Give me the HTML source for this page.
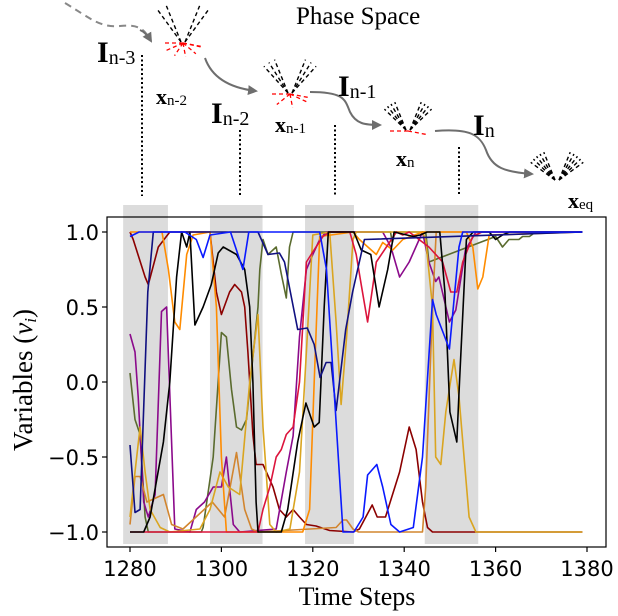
<!DOCTYPE html>
<html><head><meta charset="utf-8"><style>
html,body{margin:0;padding:0;background:#fff;}
svg{display:block;}
.tk{font-family:"DejaVu Sans","Liberation Sans",sans-serif;font-size:21px;fill:#000;}
.sf{font-family:"Liberation Serif",serif;fill:#000;}
</style></head><body>
<svg id="fig" width="618" height="616" viewBox="0 0 618 616" xmlns="http://www.w3.org/2000/svg">
<defs>
<marker id="ah" viewBox="0 0 10 10" refX="8" refY="5" markerWidth="5" markerHeight="5" orient="auto"><path d="M0,0 L10,5 L0,10 z" fill="#6e6e6e"/></marker>
</defs>
<g>
<text class="sf" x="296" y="24" font-size="25">Phase Space</text>
<path d="M65,3 C90,18 100,28 120,26 C140,24 145,30 150,40" fill="none" stroke="#888" stroke-width="2" stroke-dasharray="7,5"/>
<path d="M140,30 C145,32 148,36 151,41" fill="none" stroke="#6e6e6e" stroke-width="2" marker-end="url(#ah)"/>
<path d="M205,58 C212,78 230,88 256,91" fill="none" stroke="#6e6e6e" stroke-width="2" marker-end="url(#ah)"/>
<path d="M310,92 C345,92 345,100 350,112 C356,124 365,125 380,125" fill="none" stroke="#6e6e6e" stroke-width="2" marker-end="url(#ah)"/>
<path d="M435,131 C470,128 480,135 486,150 C492,168 505,172 532,174" fill="none" stroke="#6e6e6e" stroke-width="2" marker-end="url(#ah)"/>
<g id="clusters"></g>
<text class="sf" x="97" y="62" font-size="30" font-weight="bold">I<tspan font-size="20" font-weight="normal" dy="2">n-3</tspan></text>
<text class="sf" x="156" y="104" font-size="22" font-weight="bold">x<tspan font-size="15" font-weight="normal" dy="1">n-2</tspan></text>
<text class="sf" x="211" y="123" font-size="30" font-weight="bold">I<tspan font-size="20" font-weight="normal" dy="2">n-2</tspan></text>
<text class="sf" x="275" y="132" font-size="22" font-weight="bold">x<tspan font-size="15" font-weight="normal" dy="1">n-1</tspan></text>
<text class="sf" x="338" y="96" font-size="30" font-weight="bold">I<tspan font-size="20" font-weight="normal" dy="2">n-1</tspan></text>
<text class="sf" x="396" y="166" font-size="22" font-weight="bold">x<tspan font-size="15" font-weight="normal" dy="1">n</tspan></text>
<text class="sf" x="473" y="135" font-size="30" font-weight="bold">I<tspan font-size="20" font-weight="normal" dy="2">n</tspan></text>
<text class="sf" x="568" y="208" font-size="22" font-weight="bold">x<tspan font-size="15" font-weight="normal" dy="1">eq</tspan></text>
<g stroke="#000" stroke-width="2" stroke-dasharray="2,2.5">
<line x1="142" y1="55" x2="142" y2="196"/><line x1="240" y1="130" x2="240" y2="196"/>
<line x1="335" y1="125" x2="335" y2="196"/><line x1="459" y1="147" x2="459" y2="196"/>
</g>
</g>
<g id="chart"></g>
<text class="sf" x="357" y="605" font-size="26" text-anchor="middle">Time Steps</text>
<text class="sf" transform="translate(32,380) rotate(-90)" font-size="27" text-anchor="middle">Variables (<tspan font-style="italic">v</tspan><tspan font-style="italic" font-size="17" dy="4">i</tspan><tspan dy="-4">)</tspan></text>
</svg>
<script>
const xTicks=[1280,1300,1320,1340,1360,1380];
const yTicks=[1.0,0.5,0.0,-0.5,-1.0];
const yTickLabels=["1.0","0.5","0.0","\u22120.5","\u22121.0"];
const shadeStart=[1278.5,1297.5,1318.3,1344.5];
const shadeEnd=[1288.3,1309.0,1329.0,1356.2];
const colors=["#0a1aff","#101080","#000000","#5a6b2e","#8b0a8b","#8b0000","#dc143c","#ff8c00","#daa520","#d2852f"];
const blueX=[1280,1282,1292,1294.5,1296,1297.5,1302,1304.7,1306,1321.5,1323,1326.6,1329,1331,1332,1334,1335.3,1337.1,1339,1342,1344,1346.2,1347,1349.9,1352,1352.8,1379];
const blueY=[0.97,1,1,0.95,0.83,0.98,1,0.75,1,1,0.75,-1,-1,-0.9,-0.62,-0.55,-0.7,-0.95,-1,-0.97,-0.5,0.55,0.45,0.22,0.9,1,1];
const navyX=[1280,1281.1,1282.2,1283.9,1285.1,1308,1310.2,1312.7,1313.8,1316.7,1318.8,1320.3,1321.6,1322.9,1324,1325.1,1327.2,1328.7,1331.3,1379];
const navyY=[-0.42,-0.87,-0.85,0.6,1,1,0.85,0.86,0.8,0.35,0.36,0.25,0.03,0.13,0.13,-0.19,0.35,0.6,0.95,1];
const blackX=[1280,1283,1284.4,1287.3,1288.7,1290.2,1291.3,1292.4,1293.1,1293.8,1294.2,1296,1297.8,1299.3,1300.4,1303.3,1305.1,1306.2,1306.9,1307.6,1308,1313.1,1314.5,1316.7,1318.5,1320.3,1321.4,1322.5,1323.4,1329,1330.6,1332.7,1334.5,1336.4,1337.8,1342,1343.5,1345,1347.8,1348.9,1350,1351.5,1352.1,1353.6,1355.1,1358.6,1360,1361.5,1363,1379];
const blackY=[-1,-1,-0.9,-0.4,0,0.7,1,0.9,1,0.6,0.38,0.5,0.65,0.86,0.9,0.85,0.75,0.5,0,-0.8,-1,-1,-0.85,-0.4,-0.14,-0.3,-0.27,0.5,1,1,0.88,0.85,0.5,0.75,1,0.97,0.98,1,1,0.6,-0.2,-0.4,0,0.95,1,1,0.95,0.98,1,1];
const oliveX=[1280,1281.1,1282.2,1283.3,1284,1295.6,1296,1298.2,1300,1301.1,1302.2,1303.3,1304.4,1305.5,1308,1308.4,1309.1,1310.2,1312,1313.1,1314.2,1314.9,1315.7,1337,1337.4,1338,1344.7,1345.4,1360,1361.5,1362.9,1365.1,1365.9,1367.4,1368.8,1379];
const oliveY=[0.06,-0.25,-0.35,-0.9,-1,-1,-0.97,-0.5,0.33,0.3,-0.05,-0.3,-0.32,-0.25,0.5,0.75,0.95,0.85,0.9,0.72,0.56,0.9,1,1,0.93,1,1,0.8,0.97,0.9,0.95,0.95,0.97,0.97,1,1];
const purpleX=[1280,1281.1,1281.8,1283,1284,1285.5,1286.9,1288,1289.8,1293.1,1294.5,1296.3,1298.2,1300,1301.1,1302.6,1304,1312,1314.2,1315.7,1317.1,1318.6,1320,1321.5,1322.9,1335.3,1337.1,1339,1341.1,1344,1345.4,1346.9,1347.6,1349.9,1351.3,1353.4,1355.7,1379];
const purpleY=[0.32,0.2,-0.1,-0.8,-0.9,-0.75,0.47,0.5,-0.98,-1,-0.85,-0.8,-0.7,-0.7,-0.5,-0.95,-1,-0.98,-0.6,-0.36,0.3,0.75,0.85,0.95,1,1,0.9,0.7,0.8,1,0.8,0.67,0.7,0.4,0.48,0.88,1,1];
const maroonX=[1280,1280.7,1283.3,1284,1286.2,1288.7,1297.5,1298.9,1300,1301.8,1302.9,1304.4,1305.1,1305.8,1306.9,1307.6,1309.1,1311.3,1312.7,1314.2,1315.7,1317.1,1318.6,1320.7,1323.7,1328.8,1330.2,1331.6,1333,1334.1,1335.9,1339,1341.1,1342.6,1344,1345.1,1346.2,1379];
const maroonY=[1,0.95,0.7,0.65,0.9,1,1,0.6,0.45,0.6,0.65,0.6,0.5,0.2,-0.35,-0.55,-0.55,-0.7,-0.85,-0.9,-0.85,-0.9,-0.95,-0.96,-0.99,-1,-0.98,-0.9,-0.82,-0.9,-0.9,-0.6,-0.3,-0.45,-0.8,-0.97,-1,-1];
const redX=[1280,1308,1309.1,1310.6,1312,1313.1,1314.2,1315.7,1317.1,1318.6,1320.7,1322.2,1323.7,1328.1,1329.5,1330.6,1332,1333.9,1336.1,1338.3,1339.7,1341.1,1345.4,1348.4,1350.2,1351.5,1352.8,1355,1357,1379];
const redY=[-1,-1,-0.85,-0.7,-0.5,-0.45,-0.35,-0.3,0,0.8,0.9,0.97,1,1,0.85,0.65,0.4,0.8,0.9,1,0.98,1,0.9,0.8,0.6,0.6,0.8,0.97,1,1];
const orangeX=[1280,1287,1288.4,1289.8,1290.9,1292.4,1293.8,1297.5,1298.9,1300,1301.1,1317.8,1319.3,1320.3,1321.5,1328.8,1330.2,1333.9,1335.3,1337.5,1339.7,1344,1353.6,1355,1356.1,1357.2,1358.6,1379];
const orangeY=[1,1,0.75,0.4,0.35,0.85,0.98,1,0.5,-0.5,-1,-1,-0.85,0,0.97,1,0.95,0.85,0.93,0.88,0.95,1,1,0.9,0.62,0.7,0.98,1];
const goldX=[1280,1281.1,1282.2,1283.3,1284.4,1286.6,1288.7,1295.3,1297.5,1299.7,1301.5,1304,1306.2,1308,1309.1,1310.6,1312,1315,1317.1,1318.6,1320,1323.7,1325.1,1326.2,1327.4,1328.8,1329.5,1344,1344.7,1346.2,1346.9,1348,1349.1,1350.9,1352,1354.2,1355.7,1379];
const goldY=[-0.9,-0.6,-0.3,-0.6,-0.85,-0.97,-1,-0.98,-0.85,-0.6,-0.7,-0.75,0,0.45,-0.3,-0.95,-1,-0.98,-0.6,0.2,0.98,1,0.4,-0.15,0.3,0.95,1,1,0.95,0.5,-0.5,-0.55,-0.2,0.15,-0.1,-0.9,-1,-1];
const peruX=[1280,1281.1,1282.2,1283.7,1287.3,1289.1,1291.6,1298,1300.7,1303.3,1305.1,1306.6,1308,1325.1,1326.6,1327.4,1328.8,1330,1344,1344.7,1346.2,1347,1379];
const peruY=[-0.95,-0.63,-0.63,-0.8,-0.75,-0.95,-0.98,-0.8,-0.9,-0.47,-0.85,-0.98,-1,-0.97,-0.92,-0.92,-0.98,-1,-1,-0.7,0.5,1,1];
const seriesX=[blueX,navyX,blackX,oliveX,purpleX,maroonX,redX,orangeX,goldX,peruX];
const seriesY=[blueY,navyY,blackY,oliveY,purpleY,maroonY,redY,orangeY,goldY,peruY];
const seriesNames=["series-blue","series-navy","series-black","series-olive","series-purple","series-maroon","series-crimson","series-orange","series-goldenrod","series-peru"];
const drawOrder=[5,3,4,9,8,7,6,2,1,0];

const NS="http://www.w3.org/2000/svg";
const L=107,T=217,R=606,B=547;
const xs=v=>130+(v-1280)*(587-130)/100;
const ys=v=>382-v*150;
const chart=document.getElementById('chart');
function mk(tag,attrs,parent){const e=document.createElementNS(NS,tag);for(const k in attrs)e.setAttribute(k,attrs[k]);(parent||chart).appendChild(e);return e;}
for(let i=0;i<shadeStart.length;i++){
  const r=mk('rect',{x:xs(shadeStart[i]),y:205,width:xs(shadeEnd[i])-xs(shadeStart[i]),height:339,fill:'#dcdcdc'});
  
  
}
const clip=mk('clipPath',{id:'pc'});mk('rect',{x:L,y:T,width:R-L,height:B-T},clip);
const lines=mk('g',{'clip-path':'url(#pc)'});
for(const i of drawOrder){
  const X=seriesX[i],Y=seriesY[i];
  const d=X.map((x,j)=>(j?'L':'M')+xs(x).toFixed(1)+','+ys(Y[j]).toFixed(1)).join(' ');
  const p=mk('path',{d:d,fill:'none',stroke:colors[i],'stroke-width':1.6,'stroke-linejoin':'round'},lines);
  
  
}
const frame=mk('rect',{x:L,y:T,width:R-L,height:B-T,fill:'none',stroke:'#000','stroke-width':1.2});


xTicks.forEach(t=>{
  mk('line',{x1:xs(t),x2:xs(t),y1:B,y2:B+5,stroke:'#000','stroke-width':1.2});
  const tx=mk('text',{x:xs(t),y:576,'text-anchor':'middle',class:'tk'});tx.textContent=t;
  
  
});
yTicks.forEach((t,i)=>{
  mk('line',{x1:L-5,x2:L,y1:ys(t),y2:ys(t),stroke:'#000','stroke-width':1.2});
  const tx=mk('text',{x:99,y:ys(t)+8,'text-anchor':'end',class:'tk'});tx.textContent=yTickLabels[i];
  
  
});
// phase-space clusters: V-shaped dashed fans
const cl=document.getElementById('clusters');
function fan(cx,cy,n,len,red,gap){
  const deg=Math.PI/180;
  for(let k=0;k<n;k++){
    const aL=(-112-k*gap)*deg, aR=(-68+k*gap)*deg;
    mk('line',{x1:cx-2,y1:cy,x2:cx-2+Math.cos(aL)*len,y2:cy+Math.sin(aL)*len,stroke:'#000','stroke-width':1.4,'stroke-dasharray':'4,3'},cl);
    mk('line',{x1:cx+2,y1:cy,x2:cx+2+Math.cos(aR)*len,y2:cy+Math.sin(aR)*len,stroke:'#000','stroke-width':1.4,'stroke-dasharray':'4,3'},cl);
  }
  for(let k=0;k<red;k++){
    const a=(red===1?0:(-15+ (195)*k/(red-1)))*deg;
    mk('line',{x1:cx,y1:cy+1,x2:cx+Math.cos(a)*20,y2:cy+1+Math.abs(Math.sin(a))*14,stroke:'#f00','stroke-width':1.3,'stroke-dasharray':'4,3'},cl);
  }
}
fan(183,42,2,40,7,14);
fan(290,93,3,36,5,10);
fan(408,130,4,30,2,8);
fan(557,180,5,30,0,8);
</script>
</body></html>
